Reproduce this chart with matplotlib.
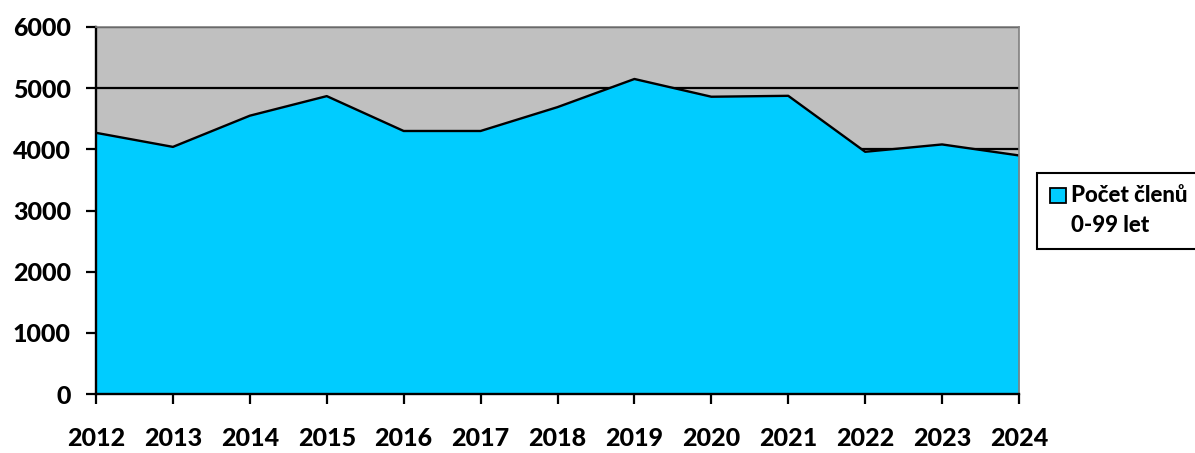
import matplotlib
matplotlib.use("Agg")
import matplotlib.pyplot as plt
from matplotlib.patches import Rectangle

years = ["2012", "2013", "2014", "2015", "2016", "2017", "2018",
         "2019", "2020", "2021", "2022", "2023", "2024"]
members = [4270, 4040, 4550, 4870, 4300, 4300, 4690,
           5150, 4860, 4875, 3960, 4080, 3900]
y_ticks = [0, 1000, 2000, 3000, 4000, 5000, 6000]
legend_label_1 = "Počet členů"
legend_label_2 = "0-99 let"

plt.rcParams['font.family'] = ['Lato', 'DejaVu Sans']
WEIGHT = "black"

W, H = 1195, 453
fig = plt.figure(figsize=(W / 100, H / 100), dpi=100)
ax = fig.add_axes([96 / W, 1 - 394 / H, (1019 - 96) / W, (394 - 27) / H])

x = list(range(len(years)))
ax.set_facecolor("#C0C0C0")
ax.fill_between(x, members, 0, color="#00CCFF", zorder=2, linewidth=0)
ax.plot(x, members, color="black", linewidth=1.7, zorder=3)

ax.set_xlim(0, len(years) - 1)
ax.set_ylim(0, 6000)
ax.set_yticks(y_ticks)
ax.set_yticklabels([str(v) for v in y_ticks])
ax.set_xticks(x)
ax.set_xticklabels(years)

ax.set_axisbelow(True)
ax.yaxis.grid(True, color="black", linewidth=1.6, zorder=1)
ax.xaxis.grid(False)

for side in ["top", "right"]:
    ax.spines[side].set_color("#808080")
    ax.spines[side].set_linewidth(1.2)
    ax.spines[side].set_zorder(4)
for side in ["left", "bottom"]:
    ax.spines[side].set_color("black")
    ax.spines[side].set_linewidth(1.7)
    ax.spines[side].set_zorder(4)

ax.tick_params(axis="y", direction="out", length=7, width=1.6, pad=11,
               labelsize=18)
ax.tick_params(axis="x", direction="out", length=7, width=1.6, pad=17,
               labelsize=18)
for lab in ax.get_xticklabels() + ax.get_yticklabels():
    lab.set_fontweight(WEIGHT)

# legend (manual, box partly cut off at the right edge)
box = Rectangle((1037 / W, 1 - 249 / H), (1300 - 1037) / W, (249 - 173) / H,
                transform=fig.transFigure, facecolor="white",
                edgecolor="black", linewidth=1.5, clip_on=False)
fig.patches.append(box)
marker = Rectangle((1050 / W, 1 - 203 / H), 16 / W, 15 / H,
                   transform=fig.transFigure, facecolor="#00CCFF",
                   edgecolor="black", linewidth=1.3)
fig.patches.append(marker)
fig.text(1071 / W, 1 - 196 / H, legend_label_1, fontsize=16,
         fontweight=WEIGHT, va="center", ha="left")
fig.text(1071 / W, 1 - 226 / H, legend_label_2, fontsize=16,
         fontweight=WEIGHT, va="center", ha="left")

fig.savefig("out.png", dpi=100)
